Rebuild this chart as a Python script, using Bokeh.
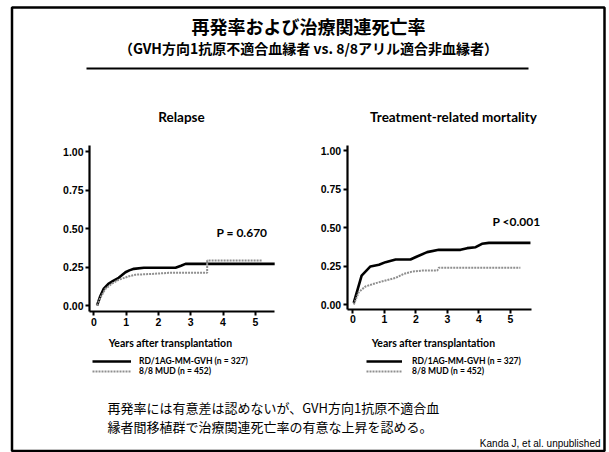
from bokeh.plotting import figure
from bokeh.models import Range1d, LinearAxis, FixedTicker, PrintfTickFormatter, Legend, LegendItem
from bokeh.core.properties import value
from bokeh.embed import file_html
from bokeh.resources import INLINE

W, H = 609, 452

# ---------------- data ----------------
title = "再発率および治療関連死亡率"
subtitle = "（GVH方向1抗原不適合血縁者 vs. 8/8アリル適合非血縁者）"
panel_titles = ["Relapse", "Treatment-related mortality"]
p_values = ["P = 0.670", "P <0.001"]
x_label = "Years after transplantation"
series_labels = ["RD/1AG-MM-GVH (n = 327)", "8/8 MUD (n = 452)"]
conclusion = ["再発率には有意差は認めないが、GVH方向1抗原不適合血",
              "縁者間移植群で治療関連死亡率の有意な上昇を認める。"]
source = "Kanda J, et al. unpublished"

x_ticks = [0, 1, 2, 3, 4, 5]
y_ticks = [0.0, 0.25, 0.5, 0.75, 1.0]

relapse_rd_t = [0.1, 0.2, 0.31, 0.45, 0.6, 0.77, 0.98, 1.1, 1.24, 1.55, 2.53, 2.7, 2.84, 5.6]
relapse_rd_v = [0.0, 0.06, 0.11, 0.14, 0.16, 0.18, 0.216, 0.228, 0.238, 0.245, 0.245, 0.258, 0.27, 0.27]

relapse_mud_t = [0.1, 0.2, 0.36, 0.55, 0.77, 1.09, 1.29, 1.8, 2.32, 3.51, 3.51, 5.2]
relapse_mud_v = [0.0, 0.05, 0.108, 0.14, 0.167, 0.19, 0.2, 0.205, 0.212, 0.212, 0.293, 0.293]

trm_rd_t = [0.03, 0.28, 0.56, 0.83, 1.04, 1.36, 1.83, 2.04, 2.36, 2.73, 3.42, 3.63, 3.9, 4.1, 4.32, 5.64]
trm_rd_v = [0.01, 0.188, 0.247, 0.258, 0.275, 0.292, 0.292, 0.312, 0.34, 0.355, 0.355, 0.366, 0.372, 0.394, 0.40, 0.40]

trm_mud_t = [0.03, 0.19, 0.4, 0.72, 1.04, 1.36, 1.62, 1.89, 2.2, 2.68, 2.73, 5.32]
trm_mud_v = [0.0, 0.08, 0.117, 0.138, 0.156, 0.173, 0.199, 0.214, 0.22, 0.22, 0.238, 0.238]

# ---------------- page figure ----------------
p = figure(width=W, height=H, x_range=Range1d(0, W), y_range=Range1d(H, 0),
           output_backend="svg", toolbar_location=None,
           x_axis_location=None, y_axis_location=None,
           min_border=0, outline_line_color=None)
p.grid.visible = False
p.background_fill_color = "white"
p.border_fill_color = "white"


def xr(p0, k):
    return Range1d((0 - p0) / k, (W - p0) / k)


def yr(p0, k):
    return Range1d((p0 - H) / k, p0 / k)


p.extra_x_ranges = {"lx": xr(93.3, 32.3), "rx": xr(352.3, 31.5)}
p.extra_y_ranges = {"ly": yr(305, 154), "ry": yr(304, 154)}

TICK_FONT = value("Liberation Sans")
LAT = value("Lato")
CJK = value("Noto Sans CJK JP")


def style_axis(a):
    a.axis_line_width = 2.2
    a.axis_line_color = "black"
    a.major_tick_line_width = 2
    a.major_tick_out = 4
    a.major_tick_in = 0
    a.minor_tick_out = 0
    a.minor_tick_in = 0
    a.major_label_text_font = "Liberation Sans"
    a.major_label_text_font_style = "bold"
    a.major_label_text_font_size = "10.5px"
    a.major_label_text_color = "black"
    a.major_label_standoff = 2


def add_axes(xn, yn, x_axis_at, y_axis_at, xb, yb):
    xa = LinearAxis(x_range_name=xn, y_range_name=yn, fixed_location=x_axis_at,
                    bounds=xb, ticker=FixedTicker(ticks=x_ticks))
    style_axis(xa)
    p.add_layout(xa, "below")
    ya = LinearAxis(x_range_name=xn, y_range_name=yn, fixed_location=y_axis_at,
                    bounds=yb, ticker=FixedTicker(ticks=y_ticks),
                    formatter=PrintfTickFormatter(format="%.2f"))
    style_axis(ya)
    p.add_layout(ya, "left")


add_axes("lx", "ly", -0.039, -0.133, (-0.133, 5.6), (-0.039, 1.04))
add_axes("rx", "ry", -0.032, -0.178, (-0.178, 5.66), (-0.032, 1.03))

BLACK_W = 2.6
GRAY = "#8f8f8f"

r_rel_rd = p.line(relapse_rd_t, relapse_rd_v, x_range_name="lx", y_range_name="ly",
                  line_color="black", line_width=BLACK_W)
r_rel_mud = p.line(relapse_mud_t, relapse_mud_v, x_range_name="lx", y_range_name="ly",
                   line_color=GRAY, line_width=2, line_dash="2 1")
r_trm_rd = p.line(trm_rd_t, trm_rd_v, x_range_name="rx", y_range_name="ry",
                  line_color="black", line_width=BLACK_W)
r_trm_mud = p.line(trm_mud_t, trm_mud_v, x_range_name="rx", y_range_name="ry",
                   line_color=GRAY, line_width=2, line_dash="2 1")

LEG_H = 10


def add_legend(renderer, label, x, cy, gw, standoff):
    lg = Legend(items=[LegendItem(label=label, renderers=[renderer])],
                location=(x, H - cy - LEG_H / 2), orientation="vertical",
                border_line_color=None, background_fill_alpha=0,
                padding=0, margin=0, spacing=0,
                glyph_width=gw, glyph_height=LEG_H, label_height=LEG_H,
                label_standoff=standoff,
                label_text_font="Lato", label_text_font_style="bold",
                label_text_font_size="8.5px", label_text_color="black")
    p.add_layout(lg)


add_legend(r_rel_rd, series_labels[0], 92, 360.8, 39, 8)
add_legend(r_rel_mud, series_labels[1], 92, 371.3, 39, 8)
add_legend(r_trm_rd, series_labels[0], 366, 360.8, 36, 10)
add_legend(r_trm_mud, series_labels[1], 366, 371.3, 36, 10)

# ---------------- page frame and texts ----------------
p.quad(left=[11.5], right=[604], top=[7], bottom=[450.5], fill_color=None,
       line_color="black", line_width=2.5)
p.segment(x0=[86], y0=[68], x1=[528], y1=[68], line_color="black", line_width=2)

p.text(x=[308], y=[25], text=[title], text_font=CJK, text_font_style="bold",
       text_font_size="18px", text_align="center", text_baseline="middle", text_color="black")
p.text(x=[308], y=[47], text=[subtitle], text_font=CJK, text_font_style="bold",
       text_font_size="14px", text_align="center", text_baseline="middle", text_color="black")

p.text(x=[181, 453], y=[116, 116], text=panel_titles, text_font=LAT, text_font_style="bold",
       text_font_size="13.5px", text_align="center", text_baseline="middle", text_color="black")
p.text(x=[216, 492], y=[232, 221], text=p_values, text_font=LAT, text_font_style="bold",
       text_font_size="12px", text_align="left", text_baseline="middle", text_color="black")
p.text(x=[170, 433], y=[342, 342], text=[x_label, x_label], text_font=LAT, text_font_style="bold",
       text_font_size="10.5px", text_align="center", text_baseline="middle", text_color="black")

p.text(x=[107, 107], y=[407, 426], text=conclusion, text_font=CJK,
       text_font_size="13px", text_align="left", text_baseline="middle", text_color="black")
p.text(x=[600], y=[443], text=[source], text_font=TICK_FONT,
       text_font_size="10px", text_align="right", text_baseline="middle", text_color="black")

open("out.html", "w").write(file_html(p, INLINE))
